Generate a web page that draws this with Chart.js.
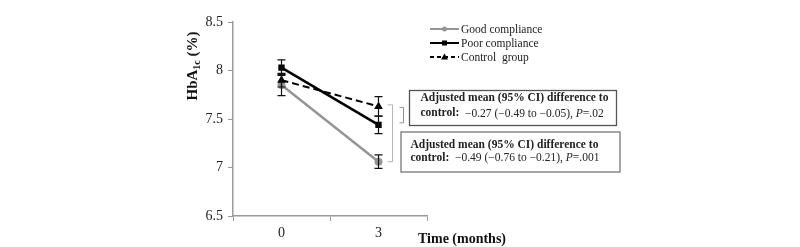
<!DOCTYPE html>
<html><head><meta charset="utf-8">
<script src="https://cdn.jsdelivr.net/npm/chart.js@4"></script>
<style>html,body{margin:0;padding:0;background:#fff}canvas{display:block}</style>
</head><body>
<canvas id="c" width="800" height="247"></canvas>
<script>
const categories = ['0', '3'];
const seriesNames = ['Good compliance', 'Poor compliance', 'Control  group'];
const goodCompliance = [7.85, 7.06];
const poorCompliance = [8.03, 7.44];
const controlGroup = [7.90, 7.63];
const goodErr = [0.11, 0.07];
const poorErr = [0.08, 0.09];
const controlErr = [0.07, 0.10];
const yTickValues = [6.5, 7, 7.5, 8, 8.5];
const xTitle = 'Time (months)';
const box1Line1 = 'Adjusted mean (95% CI) difference to';
const box1Line2 = ['control:', '  \u22120.27 (\u22120.49 to \u22120.05), ', 'P', '=.02'];
const box2Line1 = 'Adjusted mean (95% CI) difference to';
const box2Line2 = ['control:', '  \u22120.49 (\u22120.76 to \u22120.21), ', 'P', '=.001'];

const SERIF = '"Liberation Serif", "Times New Roman", serif';
const GRAY = '#959595';
const AXIS = '#9a9a9a';

function drawRuns(ctx, x, y, runs) {
  ctx.textAlign = 'left';
  ctx.textBaseline = 'middle';
  for (const r of runs) {
    ctx.font = r.font;
    ctx.fillStyle = r.color || '#222';
    ctx.fillText(r.text, x, y);
    x += ctx.measureText(r.text).width;
  }
}

const extras = {
  id: 'extras',
  afterDatasetsDraw(chart) {
    const ctx = chart.ctx;
    const xs = chart.scales.x, ys = chart.scales.y;
    // error bars
    const sets = [[goodCompliance, goodErr, GRAY], [poorCompliance, poorErr, '#000'], [controlGroup, controlErr, '#000']];
    ctx.save();
    for (const [vals, errs, col] of sets) {
      vals.forEach((v, i) => {
        const x = xs.getPixelForValue(i);
        const y1 = ys.getPixelForValue(v + errs[i]);
        const y2 = ys.getPixelForValue(v - errs[i]);
        ctx.strokeStyle = '#111';
        ctx.lineWidth = 1.2;
        ctx.beginPath();
        ctx.moveTo(x, y1); ctx.lineTo(x, y2);
        ctx.moveTo(x - 4, y1); ctx.lineTo(x + 4, y1);
        ctx.moveTo(x - 4, y2); ctx.lineTo(x + 4, y2);
        ctx.stroke();
      });
    }
    ctx.restore();
  },
  afterDraw(chart) {
    const ctx = chart.ctx;
    const xs = chart.scales.x, ys = chart.scales.y;
    ctx.save();
    // y title with subscript, rotated
    ctx.translate(192, 66);
    ctx.rotate(-Math.PI / 2);
    ctx.fillStyle = '#111';
    ctx.textBaseline = 'alphabetic';
    const bigF = 'bold 15px ' + SERIF, subF = 'bold 10px ' + SERIF;
    ctx.font = bigF; const w1 = ctx.measureText('HbA').width;
    ctx.font = subF; const w2 = ctx.measureText('1c').width;
    ctx.font = bigF; const w3 = ctx.measureText(' (%)').width;
    let xx = -(w1 + w2 + w3) / 2;
    ctx.textAlign = 'left';
    ctx.font = bigF; ctx.fillText('HbA', xx, 5); xx += w1;
    ctx.font = subF; ctx.fillText('1c', xx, 8); xx += w2;
    ctx.font = bigF; ctx.fillText(' (%)', xx, 5);
    ctx.restore();

    ctx.save();
    // x title
    ctx.font = 'bold 14px ' + SERIF;
    ctx.fillStyle = '#111';
    ctx.textAlign = 'left';
    ctx.textBaseline = 'middle';
    ctx.fillText(xTitle, 418, 239);

    // legend
    const leg = [[GRAY, [], 'circle'], ['#000', [], 'rect'], ['#000', [4, 3], 'triangle']];
    const rows = [29, 43, 57];
    leg.forEach((l, i) => {
      const y = rows[i];
      ctx.strokeStyle = l[0];
      ctx.lineWidth = 2;
      ctx.setLineDash(l[1]);
      ctx.beginPath(); ctx.moveTo(430, y); ctx.lineTo(459, y); ctx.stroke();
      ctx.setLineDash([]);
      ctx.fillStyle = l[0];
      const cx = 444.5;
      if (l[2] === 'circle') { ctx.beginPath(); ctx.arc(cx, y, 2.5, 0, Math.PI * 2); ctx.fill(); }
      else if (l[2] === 'rect') { ctx.fillRect(cx - 2.5, y - 2.5, 5, 5); }
      else { ctx.beginPath(); ctx.moveTo(cx, y - 3.5); ctx.lineTo(cx + 3.5, y + 2.5); ctx.lineTo(cx - 3.5, y + 2.5); ctx.closePath(); ctx.fill(); }
      ctx.font = '11.5px ' + SERIF;
      ctx.fillStyle = '#222';
      ctx.textAlign = 'left'; ctx.textBaseline = 'middle';
      ctx.fillText(seriesNames[i], 461, y + 0.5);
    });

    // brackets
    const bx = 392.5;
    const yCtl = ys.getPixelForValue(controlGroup[1]);
    const yGood = ys.getPixelForValue(goodCompliance[1]);
    const yPoor = ys.getPixelForValue(poorCompliance[1]);
    ctx.strokeStyle = '#b5b5b5';
    ctx.lineWidth = 1;
    ctx.beginPath();
    ctx.moveTo(bx - 5, yCtl - 1.5); ctx.lineTo(bx, yCtl - 1.5); ctx.lineTo(bx, yGood); ctx.lineTo(bx - 5, yGood);
    ctx.stroke();
    const sx = 403.5;
    ctx.strokeStyle = '#909090';
    ctx.beginPath();
    ctx.moveTo(sx - 4, yCtl + 1); ctx.lineTo(sx, yCtl + 1); ctx.lineTo(sx, yPoor - 2); ctx.lineTo(sx - 4, yPoor - 2);
    ctx.stroke();

    // boxes
    ctx.strokeStyle = '#555';
    ctx.lineWidth = 1.3;
    ctx.strokeRect(409.5, 90.5, 207, 35);
    ctx.strokeStyle = '#777';
    ctx.strokeRect(401, 132, 219, 40);
    const bold = 'bold 11.5px ' + SERIF, reg = '11.5px ' + SERIF, ital = 'italic 11.5px ' + SERIF;
    drawRuns(ctx, 420.5, 98, [{text: box1Line1, font: bold}]);
    drawRuns(ctx, 420.5, 113.5, [{text: box1Line2[0], font: bold}, {text: box1Line2[1], font: reg}, {text: box1Line2[2], font: ital}, {text: box1Line2[3], font: reg}]);
    drawRuns(ctx, 410.5, 145, [{text: box2Line1, font: bold}]);
    drawRuns(ctx, 410.5, 158, [{text: box2Line2[0], font: bold}, {text: box2Line2[1], font: reg}, {text: box2Line2[2], font: ital}, {text: box2Line2[3], font: reg}]);
    ctx.restore();
  }
};

new Chart(document.getElementById('c'), {
  type: 'line',
  data: {
    labels: categories,
    datasets: [
      { label: seriesNames[0], data: goodCompliance, borderColor: GRAY, backgroundColor: GRAY, borderWidth: 2.5, pointStyle: 'circle', pointRadius: 4, pointBorderWidth: 0, order: 3 },
      { label: seriesNames[1], data: poorCompliance, borderColor: '#000', backgroundColor: '#000', borderWidth: 2.5, pointStyle: 'rect', pointRadius: 4.5, pointBorderWidth: 0, order: 2 },
      { label: seriesNames[2], data: controlGroup, borderColor: '#000', backgroundColor: '#000', borderWidth: 2, borderDash: [7, 4], pointStyle: 'triangle', pointRadius: 5, pointBorderWidth: 0, order: 1 }
    ]
  },
  options: {
    responsive: false,
    animation: false,
    devicePixelRatio: 1,
    layout: { padding: { left: 0, right: 373, top: 22, bottom: 0 } },
    plugins: { legend: { display: false }, tooltip: { enabled: false } },
    scales: {
      x: {
        offset: true,
        grid: { offset: true, drawOnChartArea: false, color: AXIS, tickLength: 5 },
        border: { color: AXIS, width: 1.5 },
        ticks: { font: { family: SERIF, size: 14 }, color: '#222', padding: 4 },
        afterFit(s) { s.height = 31; }
      },
      y: {
        min: 6.5, max: 8.5,
        afterBuildTicks(s) { s.ticks = yTickValues.map(v => ({ value: v })); },
        grid: { drawOnChartArea: false, color: AXIS, tickLength: 5 },
        border: { color: AXIS, width: 1.5 },
        ticks: { font: { family: SERIF, size: 14 }, color: '#222', padding: 5, callback: v => String(v) },
        afterFit(s) { s.width = 233; }
      }
    }
  },
  plugins: [extras]
});
</script>
</body></html>
